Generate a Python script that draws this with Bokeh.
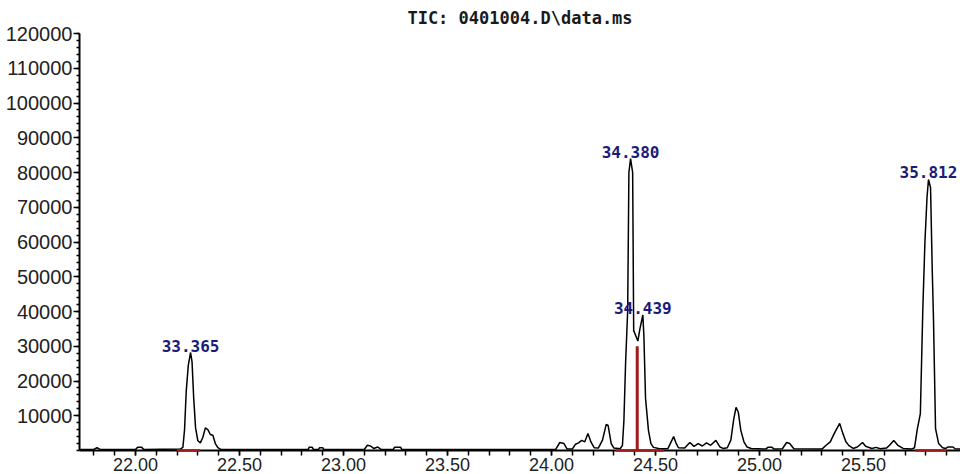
from bokeh.plotting import figure
from bokeh.models import Range1d, FixedTicker, PrintfTickFormatter
from bokeh.embed import file_html
from bokeh.resources import INLINE
from bokeh.core.properties import value

# ---- chromatogram trace (retention time, abundance) ----
times = [21.73, 21.80, 21.815, 21.83, 22.00, 22.01, 22.03, 22.04,
         22.215, 22.228, 22.236, 22.244, 22.254, 22.265, 22.272, 22.280, 22.289,
         22.300, 22.312, 22.324, 22.336, 22.348, 22.360, 22.372, 22.384, 22.396, 22.41,
         22.83, 22.835, 22.85, 22.855, 22.88, 22.885, 22.90, 22.905,
         23.10, 23.115, 23.13, 23.145, 23.165, 23.18, 23.24, 23.245, 23.275, 23.28,
         24.02, 24.04, 24.06, 24.075, 24.10, 24.115, 24.13, 24.145, 24.16, 24.175,
         24.19, 24.205, 24.225, 24.245, 24.263, 24.272, 24.287, 24.300,
         24.330, 24.341, 24.348, 24.356, 24.366, 24.372, 24.380, 24.390, 24.395,
         24.405, 24.415, 24.425, 24.439, 24.444, 24.452, 24.466, 24.478, 24.490,
         24.515, 24.538, 24.56, 24.575, 24.587, 24.598, 24.61, 24.64, 24.665,
         24.685, 24.705, 24.725, 24.745, 24.765, 24.79, 24.81, 24.825, 24.845,
         24.862, 24.876, 24.887, 24.898, 24.91, 24.925, 24.94, 24.96,
         25.03, 25.04, 25.06, 25.07, 25.11, 25.13, 25.145, 25.165,
         25.30, 25.32, 25.34, 25.36, 25.385, 25.40, 25.415, 25.43, 25.45,
         25.47, 25.495, 25.51, 25.54, 25.56, 25.58, 25.61, 25.625, 25.645, 25.665,
         25.69, 25.73, 25.745, 25.758, 25.773, 25.785, 25.795, 25.805, 25.812,
         25.822, 25.830, 25.836, 25.846, 25.861, 25.88, 25.895, 25.905, 25.93,
         25.94, 26.0]
abundance = [300, 300, 800, 300, 300, 900, 900, 300,
             400, 900, 6000, 17000, 24500, 28200, 25500, 15000, 6500,
             2800, 2200, 3800, 6500, 6000, 4600, 4400, 2000, 800, 300,
             300, 900, 900, 300, 300, 800, 800, 300,
             300, 1500, 1300, 600, 1000, 300, 300, 900, 900, 300,
             300, 2300, 2000, 400, 400, 1800, 2200, 2900, 2500, 4900,
             2400, 800, 700, 3000, 7500, 7200, 2000, 700,
             500, 1500, 8600, 25000, 40000, 80000, 84000, 80000, 34500,
             33000, 31500, 35000, 39000, 33000, 15000, 5800, 2000, 900,
             600, 500, 600, 2500, 4000, 2200, 800, 700, 2300,
             1200, 2000, 1300, 2200, 1500, 2900, 1000, 600, 800,
             3000, 9000, 12400, 11000, 5800, 2500, 1000, 600,
             400, 900, 900, 400, 500, 2300, 2000, 500,
             400, 1500, 2500, 5000, 7800, 5000, 2500, 1400, 600,
             1000, 2300, 1200, 600, 900, 500, 700, 1500, 2900, 1500,
             600, 400, 800, 6000, 10600, 41000, 60000, 72800, 78000,
             75700, 52400, 38300, 6300, 2000, 800, 600, 1000, 1000,
             500, 400]

# ---- integrated peaks ----
peak_times = [22.265, 24.380, 24.439, 25.812]
peak_heights = [28200, 84000, 39000, 78000]
peak_labels = ["33.365", "34.380", "34.439", "35.812"]
base_starts = [22.20, 24.31, 25.75]
base_ends = [22.31, 24.54, 25.90]
drop_time = [24.412]
drop_height = [30000]

# ---- axes ----
x_major = [22.0, 22.5, 23.0, 23.5, 24.0, 24.5, 25.0, 25.5]
x_minor = [round(21.8 + 0.1 * i, 1) for i in range(42)]
y_major = [10000, 20000, 30000, 40000, 50000, 60000, 70000, 80000,
           90000, 100000, 110000, 120000]
y_minor = [2000 * i for i in range(61)]
title_text = r"TIC: 0401004.D\data.ms"

p = figure(width=960, height=474, output_backend="svg", toolbar_location=None,
           x_range=Range1d(21.731, 25.966), y_range=Range1d(0, 120000),
           min_border_left=79, min_border_right=0, min_border_top=33,
           min_border_bottom=24, background_fill_color="white",
           border_fill_color="white")
p.outline_line_color = None
p.xgrid.visible = False
p.ygrid.visible = False

p.title.text = title_text
p.title.align = "center"
p.title.offset = 5
p.title.standoff = 11
p.title.text_font = "DejaVu Sans Mono"
p.title.text_font_style = "bold"
p.title.text_font_size = "17px"
p.title.text_color = "#1a1a1a"

for ax in (p.xaxis[0], p.yaxis[0]):
    ax.axis_line_width = 2
    ax.axis_line_color = "black"
    ax.major_tick_in = 0
    ax.minor_tick_in = 0
    ax.major_tick_line_width = 1.5
    ax.minor_tick_line_width = 1.5
    ax.major_tick_line_color = "black"
    ax.minor_tick_line_color = "black"
    ax.major_label_text_font = "Liberation Sans"
    ax.major_label_text_color = "#222222"

p.xaxis.ticker = FixedTicker(ticks=x_major, minor_ticks=x_minor)
p.xaxis.formatter = PrintfTickFormatter(format="%.2f")
p.xaxis.major_tick_out = 5
p.xaxis.minor_tick_out = 5
p.xaxis.major_label_standoff = 2
p.xaxis.major_label_text_font_size = "18px"

p.yaxis.ticker = FixedTicker(ticks=y_major, minor_ticks=y_minor)
p.yaxis.formatter = PrintfTickFormatter(format="%d")
p.yaxis.major_tick_out = 6
p.yaxis.minor_tick_out = 3
p.yaxis.major_label_standoff = 1
p.yaxis.major_label_text_font_size = "20px"

p.line(times, abundance, color="black", line_width=1.5)

p.segment(x0=base_starts, y0=[0] * len(base_starts), x1=base_ends,
          y1=[0] * len(base_ends), color="#a01818", line_width=2.5, level="overlay")
p.segment(x0=drop_time, y0=[0], x1=drop_time, y1=drop_height,
          color="#a01818", line_width=3, level="overlay")

p.text(x=peak_times, y=peak_heights, text=peak_labels, text_align="center",
       text_baseline="bottom", y_offset=-1,
       text_font=value("DejaVu Sans Mono"), text_font_style="bold",
       text_font_size="16px", text_color="#1b1b78")

open("out.html", "w").write(file_html(p, INLINE))
